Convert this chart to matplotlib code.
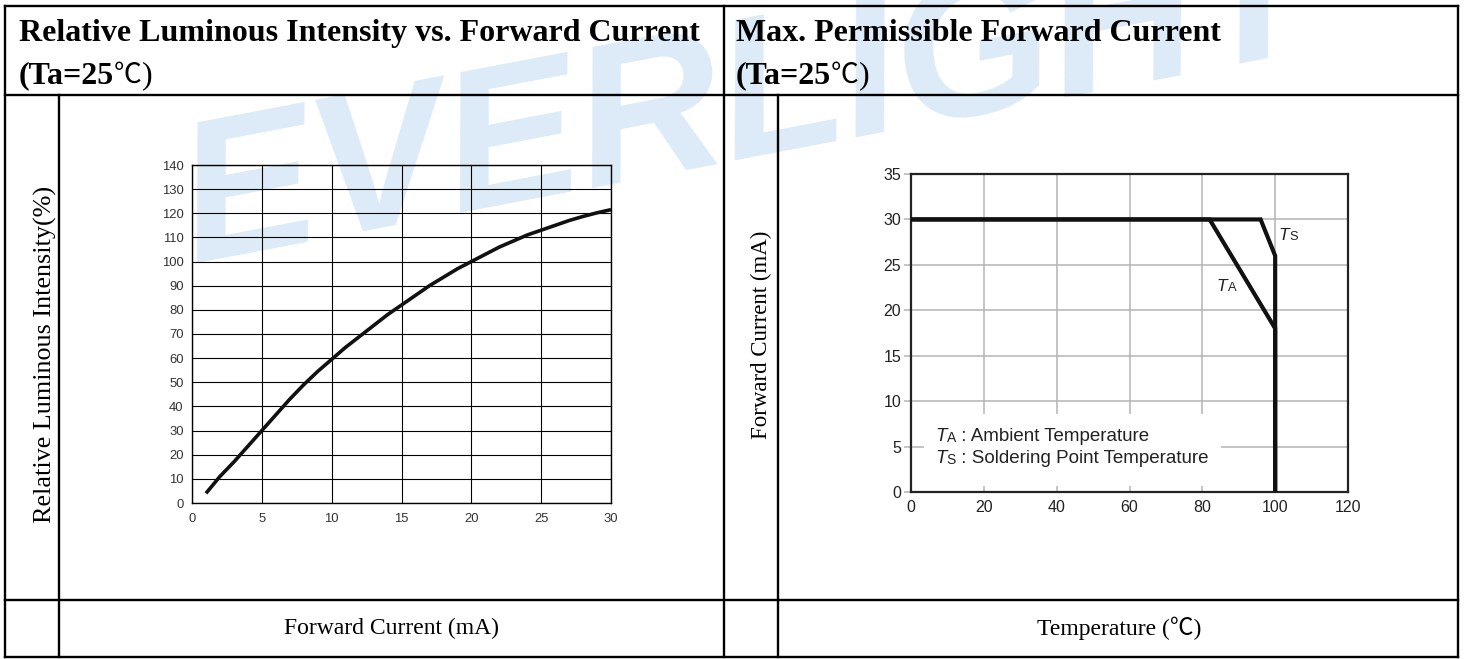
import matplotlib
matplotlib.use("Agg")
import matplotlib.pyplot as plt
from matplotlib.patches import Rectangle

W, H = 1465, 659

# ---- data: relative luminous intensity vs forward current ----
current_ma = [1, 2, 3, 4, 5, 6, 7, 8, 9, 10, 11, 12, 13, 14, 15,
              16, 17, 18, 19, 20, 21, 22, 23, 24, 25, 26, 27, 28, 29, 30]
intensity_pct = [4, 11, 17, 23.5, 30, 36.5, 43, 49, 54.5, 59.5, 64.5, 69, 73.5, 78, 82,
                 86, 90, 93.5, 97, 100, 103, 106, 108.5, 111, 113, 115, 117, 118.7, 120.2, 121.5]
x1_ticks = [0, 5, 10, 15, 20, 25, 30]
y1_ticks = list(range(0, 141, 10))

# ---- data: max permissible forward current (derating) ----
ts_temp = [0, 96, 100, 100]
ts_current = [30, 30, 26, 0]
ta_temp = [0, 82, 100, 100]
ta_current = [30, 30, 18, 0]
x2_ticks = [0, 20, 40, 60, 80, 100, 120]
y2_ticks = [0, 5, 10, 15, 20, 25, 30, 35]

SERIF = "Liberation Serif"
SANS = "Liberation Sans"
CJK = "Noto Sans CJK SC"

fig = plt.figure(figsize=(W / 100, H / 100), dpi=100)
fig.patch.set_facecolor("white")

# background layer in pixel coordinates: watermark, table frame, headings
bg = fig.add_axes([0, 0, 1, 1], zorder=0)
bg.set_xlim(0, W)
bg.set_ylim(H, 0)
bg.axis("off")

bg.text(193, 263, "EVERLIGHT", rotation=10.8, rotation_mode="anchor",
        ha="left", va="baseline", fontsize=145, family=SANS,
        weight="bold", style="italic", color="#dcebf7", zorder=0)

frame_kw = dict(color="black", lw=1.7, solid_capstyle="projecting", zorder=5)
L, R, T, B = 5, 1458, 6, 657
for y in (T, 95, 600, B):
    bg.plot([L, R], [y, y], **frame_kw)
for x in (L, 724, R):
    bg.plot([x, x], [T, B], **frame_kw)
for x in (59, 778):
    bg.plot([x, x], [95, B], **frame_kw)


def chain(prev, s, **kw):
    return bg.annotate(s, xy=(1, 0), xycoords=prev, ha="left", va="bottom", **kw)


def heading(x, line1):
    bg.text(x, 41, line1, family=SERIF, weight="bold", fontsize=23,
            ha="left", va="baseline")
    t = bg.text(x, 83, "(Ta=25", family=SERIF, weight="bold", fontsize=23,
                ha="left", va="baseline")
    t2 = chain(t, "\u2103", family=[CJK], fontsize=20)
    chain(t2, ")", family=SERIF, fontsize=23)


heading(19, "Relative Luminous Intensity vs. Forward Current")
heading(736, "Max. Permissible Forward Current")

bg.text(45, 354, "Relative Luminous Intensity(%)", rotation=90,
        family=SERIF, fontsize=18.8, ha="center", va="center")
bg.text(761, 335, "Forward Current (mA)", rotation=90,
        family=SERIF, fontsize=16.5, ha="center", va="center")
bg.text(392, 628, "Forward Current (mA)", family=SERIF, fontsize=17,
        ha="center", va="center")
bg.text(1119, 628, "Temperature (\u2103)", family=[SERIF, CJK], fontsize=17,
        ha="center", va="center")

# ---- left chart ----
ax1 = fig.add_axes([192 / W, 1 - 503 / H, 419 / W, 338 / H], zorder=2)
ax1.set_facecolor("none")
ax1.plot(current_ma, intensity_pct, color="#111111", lw=2.6,
         solid_capstyle="butt", zorder=3)
ax1.set_xlim(0, 30)
ax1.set_ylim(0, 140)
ax1.set_xticks(x1_ticks)
ax1.set_yticks(y1_ticks)
ax1.grid(True, color="black", lw=0.8)
ax1.set_axisbelow(True)
ax1.tick_params(length=0, labelsize=9.4, labelcolor="#333333", pad=6)
ax1.tick_params(axis="x", pad=7)
for lbl in ax1.get_xticklabels() + ax1.get_yticklabels():
    lbl.set_family(SANS)
for s in ax1.spines.values():
    s.set_color("black")
    s.set_linewidth(1.0)

# ---- right chart ----
ax2 = fig.add_axes([911 / W, 1 - 492 / H, 437 / W, 318 / H], zorder=2)
ax2.set_facecolor("none")
ax2.set_xlim(0, 120)
ax2.set_ylim(0, 35)
ax2.set_xticks(x2_ticks)
ax2.set_yticks(y2_ticks)
ax2.grid(True, color="#b4b4b4", lw=1.1)
ax2.set_axisbelow(True)
ax2.tick_params(axis="y", length=5, color="#b4b4b4", width=1.1,
                labelsize=11.5, labelcolor="#222222", pad=2)
ax2.tick_params(axis="x", length=0, labelsize=11.5, labelcolor="#222222", pad=6)
for lbl in ax2.get_xticklabels() + ax2.get_yticklabels():
    lbl.set_family(SANS)
for s in ax2.spines.values():
    s.set_color("#222222")
    s.set_linewidth(1.6)

ax2.add_patch(Rectangle((0.03, 0.02), 0.68, 0.225, transform=ax2.transAxes,
                        facecolor="white", edgecolor="none", zorder=1))

ax2.plot(ts_temp, ts_current, color="#111111", lw=3.0, solid_joinstyle="miter", zorder=3)
ax2.plot(ta_temp, ta_current, color="#111111", lw=3.0, solid_joinstyle="miter", zorder=3)


def tlabel(x, y, sub, rest="", size=12.5):
    t = ax2.text(x, y, "T", family=SANS, style="italic", fontsize=size,
                 ha="left", va="center", color="#222222", zorder=4)
    s = ax2.annotate(sub, xy=(1, 0), xycoords=t, ha="left", va="bottom",
                     family=SANS, fontsize=size * 0.74, color="#222222", zorder=4)
    if rest:
        ax2.annotate(rest, xy=(1, 0), xycoords=s, ha="left", va="bottom",
                     family=SANS, fontsize=size, color="#222222", zorder=4)


tlabel(101.0, 28.2, "S")
tlabel(84.0, 22.6, "A")
tlabel(6.6, 6.1, "A", " : Ambient Temperature", size=13.5)
tlabel(6.6, 3.65, "S", " : Soldering Point Temperature", size=13.5)

fig.savefig("out.png", dpi=100, facecolor="white")
